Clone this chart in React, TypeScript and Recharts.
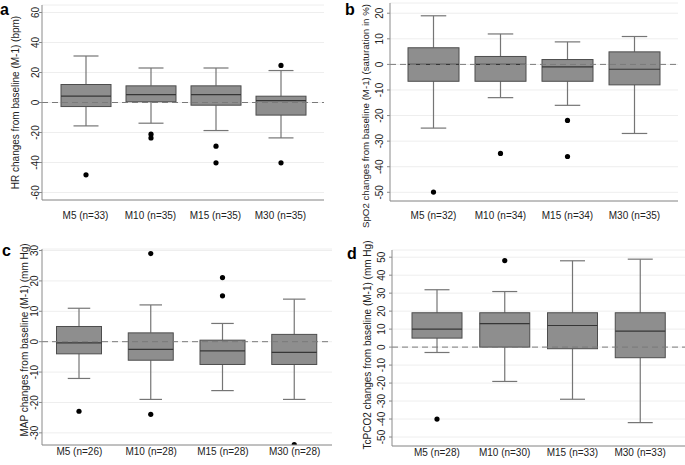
import React from 'react';
import { ComposedChart, Bar, XAxis, YAxis, CartesianGrid, ReferenceLine } from 'recharts';

const FONT = '"Liberation Sans", Arial, Helvetica, sans-serif';

const timePoints = ['M5', 'M10', 'M15', 'M30'];

// a: HR (bpm)
const hrN = [33, 35, 35, 35];
const hrLow = [-15.6, -13.8, -18.7, -23.6];
const hrQ1 = [-2.7, 0.5, -1.8, -8.4];
const hrMed = [4.2, 5.3, 5.3, 1.3];
const hrQ3 = [12, 11.1, 11.1, 4.2];
const hrHigh = [31, 23, 23, 21.3];
const hrOut = [[-48.2], [-21.1, -23.6], [-29.1, -40.2], [24.7, -40.2]];
const hrTicks = [-60, -40, -20, 0, 20, 40, 60];

// b: SpO2 (%)
const spN = [32, 34, 34, 35];
const spLow = [-24.9, -13, -16, -27];
const spQ1 = [-6.6, -6.6, -6.6, -8];
const spMed = [0, 0, -1, -1.9];
const spQ3 = [6.5, 3.1, 1.9, 4.9];
const spHigh = [19, 11.9, 8.8, 10.9];
const spOut = [[-49.9], [-34.8], [-21.9, -36], []];
const spTicks = [-50, -40, -30, -20, -10, 0, 10, 20];

// c: MAP (mm Hg)
const mapN = [26, 28, 28, 28];
const mapLow = [-12.1, -19, -16.1, -19];
const mapQ1 = [-4, -6.1, -7.5, -7.5];
const mapMed = [-0.4, -2.5, -3, -3.5];
const mapQ3 = [5, 2.9, 0.5, 2.4];
const mapHigh = [11, 12.1, 6, 14];
const mapOut = [[-22.9], [29, -23.9], [21.1, 15.1], [-33.9]];
const mapTicks = [-30, -20, -10, 0, 10, 20, 30];

// d: TcPCO2 (mm Hg)
const tcN = [28, 30, 33, 33];
const tcLow = [-3, -19.1, -29, -42];
const tcQ1 = [5, 0, -0.9, -5.9];
const tcMed = [10, 13, 12, 8.9];
const tcQ3 = [19.1, 19.1, 19.1, 19.1];
const tcHigh = [31.9, 30.9, 48, 48.9];
const tcOut = [[-40], [48.1], [], []];
const tcTicks = [-50, -40, -30, -20, -10, 0, 10, 20, 30, 40, 50];

const buildRows = (n: number[], low: number[], q1: number[], med: number[], q3: number[], high: number[], out: number[][]) =>
  timePoints.map((tp, i) => ({
    name: `${tp} (n=${n[i]})`,
    lo: low[i],
    q1: q1[i],
    med: med[i],
    q3: q3[i],
    hi: high[i],
    out: out[i],
  }));

// box + whiskers + outliers, positioned from the range bar the library lays out
const BoxShape = (props: any) => {
  const { x, y, width, height, payload } = props;
  if (!payload || height == null) return null;
  const top = height >= 0 ? y : y + height;
  const h = Math.abs(height);
  const span = payload.hi - payload.lo;
  const py = (v: number) => top + ((payload.hi - v) / span) * h;
  const cx = x + width / 2;
  const cap = width / 4;
  return (
    <g>
      <line x1={cx} x2={cx} y1={py(payload.hi)} y2={py(payload.q3)} stroke="#757575" strokeWidth={1.2} />
      <line x1={cx} x2={cx} y1={py(payload.q1)} y2={py(payload.lo)} stroke="#757575" strokeWidth={1.2} />
      <line x1={cx - cap} x2={cx + cap} y1={py(payload.hi)} y2={py(payload.hi)} stroke="#757575" strokeWidth={1.2} />
      <line x1={cx - cap} x2={cx + cap} y1={py(payload.lo)} y2={py(payload.lo)} stroke="#757575" strokeWidth={1.2} />
      <rect x={x} y={py(payload.q3)} width={width} height={py(payload.q1) - py(payload.q3)} fill="#8e8e8e" stroke="#4d4d4d" strokeWidth={1} />
      <line x1={x} x2={x + width} y1={py(payload.med)} y2={py(payload.med)} stroke="#363636" strokeWidth={1.2} />
      {payload.out.map((v: number, i: number) => (
        <circle key={i} cx={cx} cy={py(v)} r={2.6} fill="#000" />
      ))}
    </g>
  );
};

const makeYTick = () => (props: any) => {
  const { x, y, payload } = props;
  return (
    <text x={x} y={y} transform={`rotate(-90 ${x} ${y})`} textAnchor="middle" fontSize={10} fill="#222" fontFamily={FONT}>
      {payload.value}
    </text>
  );
};

const makeXTick = (offset: number) => (props: any) => {
  const { x, y, payload } = props;
  return (
    <text x={x} y={y + offset} textAnchor="middle" fontSize={10} fill="#222" fontFamily={FONT}>
      {payload.value}
    </text>
  );
};

const makeYLabel = (text: string, cxAbs: number, dy: number, size: number) => ({
  content: ({ viewBox }: any) => {
    if (!viewBox) return null;
    const lx = cxAbs + 2.5;
    const ly = viewBox.y + viewBox.height / 2 + dy;
    return (
      <text x={lx} y={ly} transform={`rotate(-90 ${lx} ${ly})`} textAnchor="middle" fontSize={size} fill="#222" fontFamily={FONT}>
        {text}
      </text>
    );
  },
});

interface PanelProps {
  rows: any[];
  left: number;
  top: number;
  width: number;
  height: number;
  margin: { top: number; right: number; bottom: number; left: number };
  yWidth: number;
  xHeight: number;
  domain: [number, number];
  ticks: number[];
  label: string;
  labelX: number;
  labelDy: number;
  labelSize?: number;
  tickGap: number;
  xOffset: number;
  pad: number;
  barSize: number;
}

function Panel(p: PanelProps) {
  return (
    <div style={{ position: 'absolute', left: p.left, top: p.top, width: p.width, height: p.height }}>
      <ComposedChart width={p.width} height={p.height} data={p.rows} margin={p.margin}>
        <CartesianGrid vertical={false} stroke="#eeeeee" />
        <XAxis
          dataKey="name"
          type="category"
          height={p.xHeight}
          padding={{ left: p.pad, right: p.pad }}
          axisLine={{ stroke: '#8a8a8a' }}
          tickLine={false}
          tickSize={0}
          tickMargin={0}
          tick={makeXTick(p.xOffset)}
          interval={0}
        />
        <YAxis
          type="number"
          width={p.yWidth}
          domain={p.domain}
          allowDataOverflow
          ticks={p.ticks}
          interval={0}
          axisLine={{ stroke: '#8a8a8a' }}
          tickLine={{ stroke: '#8a8a8a' }}
          tickSize={3}
          tickMargin={p.tickGap}
          tick={makeYTick()}
          label={makeYLabel(p.label, p.labelX, p.labelDy, p.labelSize ?? 10)}
        />
        <Bar dataKey={(d: any) => [d.lo, d.hi]} barSize={p.barSize} shape={BoxShape} isAnimationActive={false} />
        <ReferenceLine y={0} stroke="#7a7a7a" strokeDasharray="6 4" strokeWidth={1} />
      </ComposedChart>
    </div>
  );
}

export default function App() {
  const hrRows = buildRows(hrN, hrLow, hrQ1, hrMed, hrQ3, hrHigh, hrOut);
  const spRows = buildRows(spN, spLow, spQ1, spMed, spQ3, spHigh, spOut);
  const mapRows = buildRows(mapN, mapLow, mapQ1, mapMed, mapQ3, mapHigh, mapOut);
  const tcRows = buildRows(tcN, tcLow, tcQ1, tcMed, tcQ3, tcHigh, tcOut);

  return (
    <div style={{ position: 'absolute', left: 0, top: 0, width: 685, height: 465, background: '#fff', overflow: 'hidden', fontFamily: FONT }}>
      <Panel
        rows={hrRows}
        left={0}
        top={0}
        width={340}
        height={232}
        margin={{ top: 5, right: 16, bottom: 0, left: 0 }}
        yWidth={42}
        xHeight={32}
        domain={[-65, 65]}
        ticks={hrTicks}
        label="HR changes from baseline (M-1) (bpm)"
        labelX={16.5}
        labelDy={0}
        tickGap={0.5}
        xOffset={19}
        pad={11}
        barSize={50}
      />
      <Panel
        rows={spRows}
        left={345}
        top={0}
        width={340}
        height={232}
        margin={{ top: 3, right: 7, bottom: 0, left: 0 }}
        yWidth={45}
        xHeight={31}
        domain={[-53.4, 24]}
        ticks={spTicks}
        label="SpO2 changes from baseline (M-1) (saturation in %)"
        labelX={21}
        labelDy={14}
        labelSize={9.7}
        tickGap={3.5}
        xOffset={18}
        pad={10}
        barSize={51}
      />
      <Panel
        rows={mapRows}
        left={0}
        top={232}
        width={340}
        height={233}
        margin={{ top: 17, right: 8, bottom: 0, left: 0 }}
        yWidth={42}
        xHeight={20}
        domain={[-34, 30.5]}
        ticks={mapTicks}
        label="MAP changes from baseline (M-1) (mm Hg)"
        labelX={25}
        labelDy={-7}
        tickGap={1}
        xOffset={10}
        pad={1.5}
        barSize={45}
      />
      <Panel
        rows={tcRows}
        left={345}
        top={232}
        width={340}
        height={233}
        margin={{ top: 18, right: 0, bottom: 0, left: 0 }}
        yWidth={47}
        xHeight={19}
        domain={[-55, 54]}
        ticks={tcTicks}
        label="TcPCO2 changes from baseline (M-1) (mm Hg)"
        labelX={23}
        labelDy={-3}
        tickGap={3.5}
        xOffset={10}
        pad={11}
        barSize={50}
      />
      <svg width={685} height={465} style={{ position: 'absolute', left: 0, top: 0, pointerEvents: 'none' }}>
        <g fontFamily={FONT} fontWeight="bold" fontSize={16} fill="#000">
          <text x={0} y={15}>a</text>
          <text x={345} y={15}>b</text>
          <text x={2} y={256}>c</text>
          <text x={347} y={259}>d</text>
        </g>
      </svg>
    </div>
  );
}
